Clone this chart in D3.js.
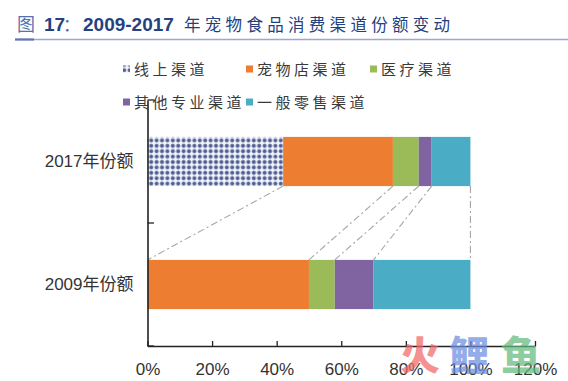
<!DOCTYPE html>
<html><head><meta charset="utf-8">
<script src="https://cdn.jsdelivr.net/npm/d3@7/dist/d3.min.js"></script>
<style>html,body{margin:0;padding:0;background:#fff;}svg{display:block;}</style>
</head><body>
<script>
const categories = ["2017年份额", "2009年份额"];
const seriesNames = ["线上渠道", "宠物店渠道", "医疗渠道", "其他专业渠道", "一般零售渠道"];
const values2017 = [42, 34, 8, 4, 12];
const values2009 = [0, 50, 8, 12, 30];
const xTicks = [0, 20, 40, 60, 80, 100, 120];
const colors = ["url(#pat)", "#ED7D31", "#9BBB59", "#8064A2", "#4BACC6"];

const W = 568, H = 381;
const svg = d3.select("body").append("svg").attr("width", W).attr("height", H);

const defs = svg.append("defs");
const pat = defs.append("pattern").attr("id", "pat").attr("patternUnits", "userSpaceOnUse")
  .attr("width", 5.4).attr("height", 5.4);
pat.append("rect").attr("width", 5.4).attr("height", 5.4).attr("fill", "#4a5a90");
pat.append("rect").attr("x", 1.6).attr("y", 0.2).attr("width", 2.2).attr("height", 5).attr("fill", "#f2f4fa");
pat.append("rect").attr("x", 0.2).attr("y", 1.6).attr("width", 5).attr("height", 2.2).attr("fill", "#f2f4fa");

// Title
const title = svg.append("text").attr("y", 31);
title.append("tspan").attr("x", 17).attr("font-family", "Noto Sans CJK SC").attr("font-size", 18)
  .attr("fill", "#5573b3").text("图");
title.append("tspan").attr("x", 44).attr("font-family", "Liberation Sans, Arial").attr("font-weight", "bold")
  .attr("font-size", 19).attr("fill", "#24427f").text("17");
title.append("tspan").attr("x", 63).attr("font-family", "Noto Sans CJK SC").attr("font-size", 17)
  .attr("fill", "#556b99").text("：");
title.append("tspan").attr("x", 83).attr("font-family", "Liberation Sans, Arial").attr("font-weight", "bold")
  .attr("font-size", 19).attr("fill", "#24427f").text("2009-2017");
title.append("tspan").attr("x", 184).attr("font-family", "Noto Sans CJK SC").attr("font-size", 16.5)
  .attr("letter-spacing", 4.3).attr("fill", "#243f80").text("年宠物食品消费渠道份额变动");
svg.append("line").attr("x1", 15).attr("x2", 568).attr("y1", 39.5).attr("y2", 39.5)
  .attr("stroke", "#9aa8d2").attr("stroke-width", 1.6);
svg.append("line").attr("x1", 15).attr("x2", 34).attr("y1", 39.5).attr("y2", 39.5)
  .attr("stroke", "#6478b0").attr("stroke-width", 2.2);

// Scales
const x = d3.scaleLinear().domain([0, 120]).range([147.5, 535]);
const y = d3.scaleBand().domain(categories).range([100, 346]).paddingInner(0.6).paddingOuter(0.3);

const rows = [values2017, values2009].map((vals, i) => {
  let c = 0;
  return { cat: categories[i], segs: vals.map((v, j) => { const s = { j, x0: c, x1: c + v }; c += v; return s; }) };
});

// Connector lines (series lines)
const conn = svg.append("g");
seriesNames.forEach((n, j) => {
  conn.append("line")
    .attr("x1", x(rows[0].segs[j].x1)).attr("y1", y(categories[0]) + y.bandwidth())
    .attr("x2", x(rows[1].segs[j].x1)).attr("y2", y(categories[1]))
    .attr("stroke", "#a6a6a6").attr("stroke-width", 1.1).attr("stroke-dasharray", "7,3,2,3");
});

// Bars
const g = svg.append("g");
rows.forEach(r => {
  g.selectAll(null).data(r.segs.filter(s => s.x1 > s.x0)).enter().append("rect")
    .attr("x", s => x(s.x0)).attr("width", s => x(s.x1) - x(s.x0))
    .attr("y", y(r.cat)).attr("height", y.bandwidth())
    .attr("fill", s => colors[s.j]);
});

// X axis
const xAxis = svg.append("g").attr("transform", "translate(0,346)")
  .call(d3.axisBottom(x).tickValues(xTicks).tickFormat(d => d + "%").tickSizeInner(-5).tickSizeOuter(0).tickPadding(17));
xAxis.select(".domain").attr("stroke", "#222").attr("stroke-width", 1.6);
xAxis.selectAll(".tick line").attr("stroke", "#222").attr("stroke-width", 1.3);
xAxis.selectAll("text").attr("font-family", "Liberation Sans, Arial").attr("font-size", 17).attr("fill", "#333");

// Y axis
const yAxis = svg.append("g").attr("transform", "translate(147.5,0)")
  .call(d3.axisLeft(y).tickSize(0).tickPadding(14));
yAxis.select(".domain").attr("stroke", "#222").attr("stroke-width", 1.6);
yAxis.selectAll("text").attr("font-family", "Liberation Sans, Arial, Noto Sans CJK SC").attr("font-size", 17)
  .attr("fill", "#333");
const bounds = [y.range()[0], (y(categories[0]) + y.bandwidth() + y(categories[1])) / 2, y.range()[1]];
svg.append("g").selectAll("line").data(bounds).enter().append("line")
  .attr("x1", 147.5).attr("x2", 154).attr("y1", d => d).attr("y2", d => d)
  .attr("stroke", "#222").attr("stroke-width", 1.3);

// Legend
const legendPos = [[123, 69], [246, 69], [370, 69], [123, 102], [246, 102]];
const lg = svg.append("g");
seriesNames.forEach((n, j) => {
  const [lx, ly] = legendPos[j];
  lg.append("rect").attr("x", lx).attr("y", ly - 3.5).attr("width", 7).attr("height", 7).attr("fill", colors[j]);
  lg.append("text").attr("x", lx + 11).attr("y", ly + 5.5)
    .attr("font-family", "Noto Sans CJK SC").attr("font-size", 15).attr("letter-spacing", 3.5)
    .attr("fill", "#3a3a3a").text(n);
});

// Watermark
const wm = [["火", 400, "#f26767"], ["鲤", 449, "#6b8de0"], ["鱼", 501, "#62bb7d"]];
svg.append("g").selectAll("text").data(wm).enter().append("text")
  .attr("x", d => d[1]).attr("y", 370).attr("font-family", "Noto Sans CJK SC").attr("font-weight", "900")
  .attr("font-size", 40).attr("fill", d => d[2]).attr("opacity", 0.72).text(d => d[0]);
</script>
</body></html>
